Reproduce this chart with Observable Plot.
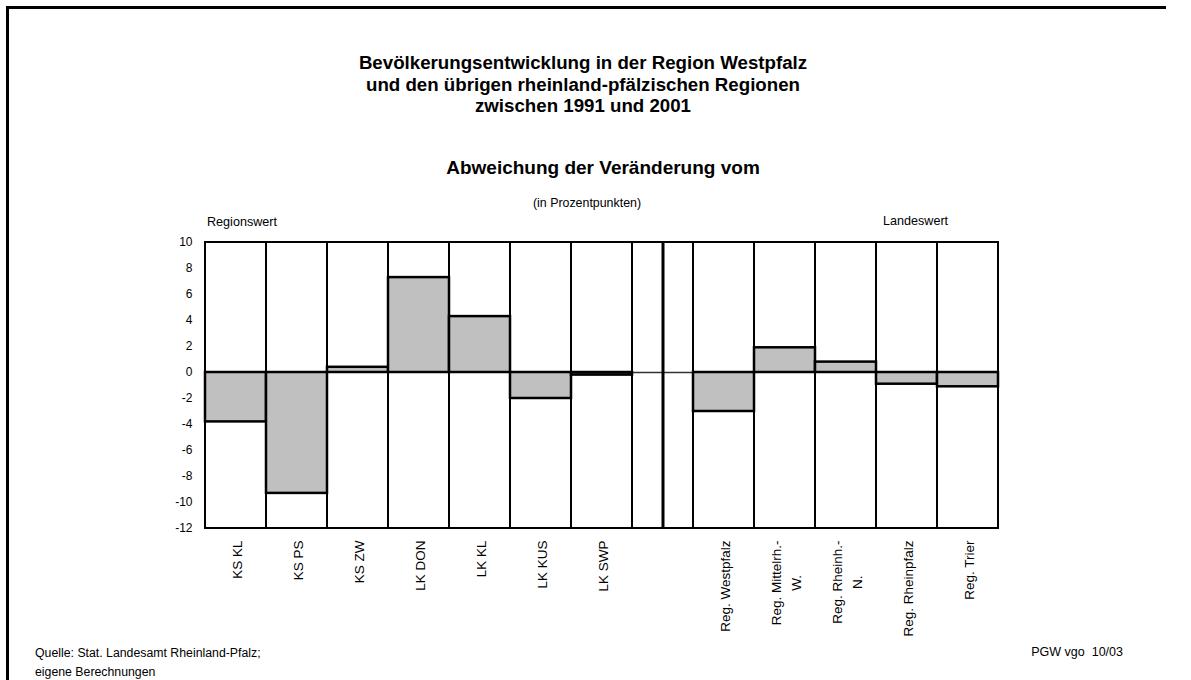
<!DOCTYPE html>
<html>
<head>
<meta charset="utf-8">
<script src="https://cdn.jsdelivr.net/npm/d3@7"></script>
<script src="https://cdn.jsdelivr.net/npm/@observablehq/plot@0.6"></script>
<style>
  html, body { margin: 0; padding: 0; background: #fff; overflow: hidden; }
  body { font-family: "Liberation Sans", Arial, sans-serif; color: #000; }
  #page { position: relative; width: 1191px; height: 680px; overflow: hidden; background: #fff; }
  .line { position: absolute; background: #000; }
  #frame-top { left: 6px; top: 6px; width: 1160px; height: 2.5px; }
  #frame-left { left: 6px; top: 6px; width: 2.5px; height: 674px; }
  .t { position: absolute; white-space: pre; }
  #title { left: 283px; width: 600px; top: 52px; text-align: center; font-weight: bold;
           font-size: 18.7px; line-height: 21.7px; }
  #subtitle { left: 303px; width: 600px; top: 157.4px; text-align: center; font-weight: bold;
              font-size: 19px; line-height: 22px; }
  #unit { left: 387px; width: 400px; top: 196.2px; text-align: center; font-size: 12.4px; line-height: 15px; }
  #left-label { left: 207px; top: 214.8px; font-size: 12.6px; line-height: 15px; }
  #right-label { left: 883px; top: 214.1px; font-size: 12.6px; line-height: 15px; }
  #source { left: 35px; top: 644px; font-size: 12.3px; line-height: 19px; }
  #credit { right: 68px; top: 643px; font-size: 12.5px; line-height: 19px; }
  #chart { position: absolute; left: 0; top: 200px; }
</style>
</head>
<body>
<div id="page">
  <div class="line" id="frame-top"></div>
  <div class="line" id="frame-left"></div>
  <div id="chart"></div>
  <div class="t" id="title">Bevölkerungsentwicklung in der Region Westpfalz
und den übrigen rheinland-pfälzischen Regionen
zwischen 1991 und 2001</div>
  <div class="t" id="subtitle">Abweichung der Veränderung vom</div>
  <div class="t" id="unit">(in Prozentpunkten)</div>
  <div class="t" id="left-label">Regionswert</div>
  <div class="t" id="right-label">Landeswert</div>
  <div class="t" id="source">Quelle: Stat. Landesamt Rheinland-Pfalz;
eigene Berechnungen</div>
  <div class="t" id="credit">PGW vgo  10/03</div>
</div>
<script>
// ---- data ----
const kreise = ["KS KL", "KS PS", "KS ZW", "LK DON", "LK KL", "LK KUS", "LK SWP"];
const kreisWerte = [-3.8, -9.3, 0.4, 7.3, 4.3, -2.0, -0.2];
const luecke = "gap";
const regionen = ["Reg. Westpfalz", "Reg. Mittelrh.-\nW.", "Reg. Rheinh.-\nN.", "Reg. Rheinpfalz", "Reg. Trier"];
const regionWerte = [-3.0, 1.9, 0.8, -0.9, -1.1];
const yTicks = [10, 8, 6, 4, 2, 0, -2, -4, -6, -8, -10, -12];
const yDomain = [-12, 10];

const categories = [...kreise, luecke, ...regionen];
const bars = [
  ...kreise.map((k, i) => ({cat: k, value: kreisWerte[i]})),
  ...regionen.map((r, i) => ({cat: r, value: regionWerte[i]}))
];

const font = '"Liberation Sans", Arial, sans-serif';

const chart = Plot.plot({
  width: 1191,
  height: 448,
  marginTop: 42,
  marginBottom: 120,
  marginLeft: 203,
  marginRight: 191,
  style: {fontFamily: font, background: "transparent", overflow: "visible", color: "#000"},
  x: {domain: categories, padding: 0, axis: null, label: null},
  y: {domain: yDomain, axis: null, label: null},
  marks: [
    Plot.barY(categories, {x: d => d, y1: yDomain[0], y2: yDomain[1], fill: "white", stroke: "black", strokeWidth: 2}),
    Plot.tickY([luecke], {x: d => d, y: 0, stroke: "#333", strokeWidth: 1.5}),
    Plot.ruleX([luecke], {x: d => d, y1: yDomain[0], y2: yDomain[1], stroke: "black", strokeWidth: 3}),
    Plot.barY(bars, {x: "cat", y1: 0, y2: "value", fill: "#c0c0c0", stroke: "black", strokeWidth: 2.5}),
    Plot.axisY({ticks: yTicks, tickSize: 0, tickPadding: 11, fontSize: 12, label: null, tickFormat: d => String(d)}),
    Plot.axisX({tickSize: 0, tickRotate: -90, textAnchor: "end", lineAnchor: "middle", tickPadding: 12,
                fontSize: 13.5, lineHeight: 1.45, label: null, tickFormat: d => d === luecke ? "" : d})
  ]
});

document.getElementById("chart").appendChild(chart);

// centre the lines of two-line rotated labels on each other (as in the original)
const svg = chart.tagName.toLowerCase() === "svg" ? chart : chart.querySelector("svg");
svg.querySelectorAll('g[aria-label="x-axis tick label"] text').forEach(t => {
  const spans = t.querySelectorAll("tspan");
  if (spans.length > 1) {
    const w = Math.max(...Array.from(spans, s => s.getComputedTextLength()));
    t.setAttribute("text-anchor", "middle");
    spans.forEach(s => s.setAttribute("x", -w / 2));
  }
});
</script>
</body>
</html>
